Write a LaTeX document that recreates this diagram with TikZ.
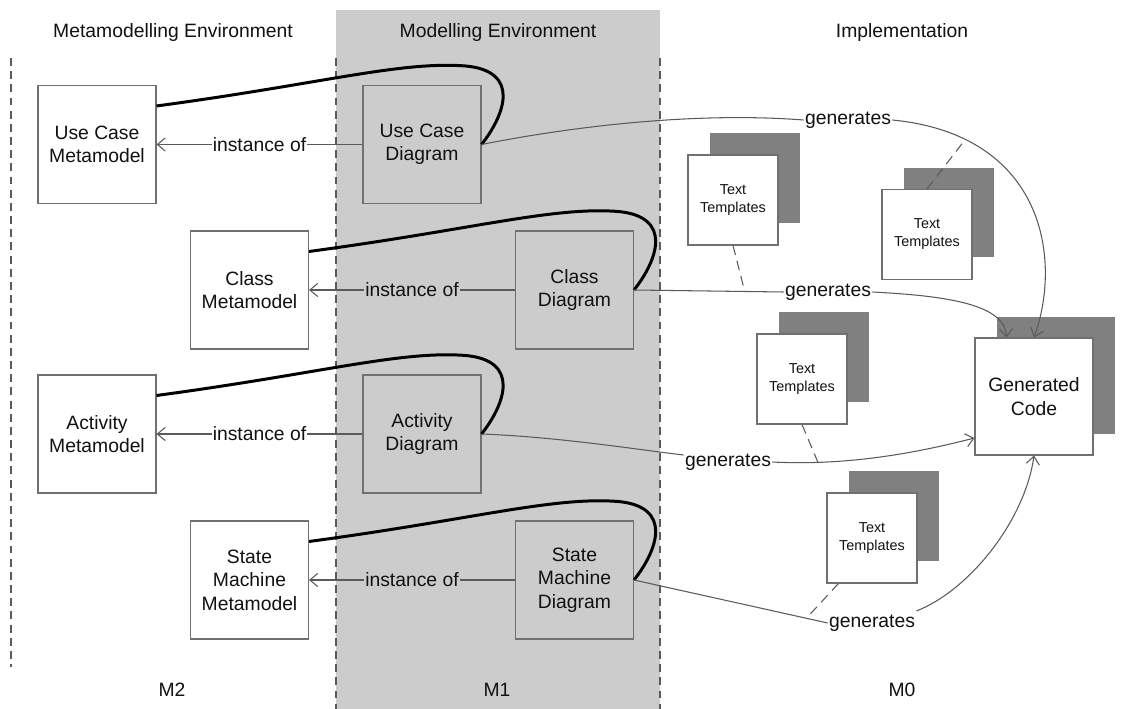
\documentclass[tikz,border=0pt]{standalone}
\usepackage{fontspec}
\setmainfont{Liberation Sans}
\usetikzlibrary{arrows.meta,calc}
\definecolor{bandgray}{HTML}{CCCCCC}
\definecolor{shadowgray}{HTML}{808080}
\definecolor{boxline}{HTML}{707070}
\definecolor{linegray}{HTML}{5A5A5A}
\definecolor{ink}{HTML}{111111}
\begin{document}
\begin{tikzpicture}[x=0.02cm,y=-0.02cm,
  txt/.style={font=\fontsize{11}{13.3}\selectfont, text=ink},
  mbox/.style={draw=boxline, line width=0.6pt, minimum width=2.36cm, minimum height=2.36cm, inner sep=0pt, align=center, txt},
  mmbox/.style={mbox, fill=white},
  dgbox/.style={mbox, fill=bandgray},
  front/.style={draw=boxline, line width=0.6pt, fill=white, minimum width=1.8cm, minimum height=1.8cm, inner sep=0pt, align=center, font=\fontsize{8.2}{10.2}\selectfont, text=ink},
  back/.style={fill=shadowgray, minimum width=1.8cm, minimum height=1.8cm, inner sep=0pt},
  gcfront/.style={front, minimum width=2.36cm, minimum height=2.34cm, txt},
  gcback/.style={back, minimum width=2.36cm, minimum height=2.34cm},
  conn/.style={draw=linegray, line width=0.6pt},
  arr/.style={conn, -{Straight Barb[length=4.5pt,width=7.5pt]}},
  lbl/.style={txt, inner sep=0.6pt},
  bound/.style={draw=linegray, line width=0.6pt, dash pattern=on 4.5pt off 3pt},
  tdash/.style={draw=linegray, line width=0.6pt, dash pattern=on 5.5pt off 3.5pt},
  thickc/.style={draw=black, line width=1.7pt},
]
\useasboundingbox (0,0) rectangle (1136,709);
\fill[white] (0,0) rectangle (1136,709);
\fill[bandgray] (336,10) rectangle (660,709);
\draw[bound] (11,58) -- (11,667);
\draw[bound] (336,58) -- (336,709);
\draw[bound] (660,58) -- (660,709);

% headers and level labels
\node[txt] (h2) at (173,33) {Metamodelling Environment};
\node[txt] (h1) at (498,33) {Modelling Environment};
\node[txt] (h0) at (902,33) {Implementation};
\node[txt] (m2) at (172,690) {M2};
\node[txt] (m1) at (497,690) {M1};
\node[txt] (m0) at (902,690) {M0};

% metamodels and diagrams
\node[mmbox] (ucm) at (97,144.5) {Use Case\\Metamodel};
\node[dgbox] (ucd) at (422,144.5) {Use Case\\Diagram};
\node[mmbox] (cm) at (249.5,290) {Class\\Metamodel};
\node[dgbox] (cd) at (574.5,290) {Class\\Diagram};
\node[mmbox] (am) at (97,434) {Activity\\Metamodel};
\node[dgbox] (ad) at (422,434) {Activity\\Diagram};
\node[mmbox] (smm) at (249.5,580) {State\\Machine\\Metamodel};
\node[dgbox] (smd) at (574.5,580) {State\\Machine\\Diagram};

% instance of
\draw[arr] (ucd) -- node[lbl, fill=white] {instance of} (ucm);
\draw[arr] (cd) -- node[lbl, fill=bandgray] {instance of} (cm);
\draw[arr] (ad) -- node[lbl, fill=white] {instance of} (am);
\draw[arr] (smd) -- node[lbl, fill=bandgray] {instance of} (smm);

% thick loops
\draw[thickc] ($(ucm.north east)+(0,21)$) .. controls ($(ucm.north east)+(164,-1)$) and ($(ucd.north east)+(-81,-24)$) .. ($(ucd.north east)+(-16,-19)$) .. controls ($(ucd.north east)+(39,-14)$) and ($(ucd.north east)+(24,29)$) .. (ucd.east);
\draw[thickc] ($(cm.north east)+(0,21)$) .. controls ($(cm.north east)+(164,-1)$) and ($(cd.north east)+(-81,-24)$) .. ($(cd.north east)+(-16,-19)$) .. controls ($(cd.north east)+(39,-14)$) and ($(cd.north east)+(24,29)$) .. (cd.east);
\draw[thickc] ($(am.north east)+(0,21)$) .. controls ($(am.north east)+(164,-1)$) and ($(ad.north east)+(-81,-24)$) .. ($(ad.north east)+(-16,-19)$) .. controls ($(ad.north east)+(39,-14)$) and ($(ad.north east)+(24,29)$) .. (ad.east);
\draw[thickc] ($(smm.north east)+(0,21)$) .. controls ($(smm.north east)+(164,-1)$) and ($(smd.north east)+(-81,-24)$) .. ($(smd.north east)+(-16,-19)$) .. controls ($(smd.north east)+(39,-14)$) and ($(smd.north east)+(24,29)$) .. (smd.east);

% text templates
\node[back] (tt1b) at (755,178) {};
\node[front] (tt1) at (733,200) {Text\\Templates};
\node[back] (tt2b) at (949,212.5) {};
\node[front] (tt2) at (927,234.5) {Text\\Templates};
\node[back] (tt3b) at (824,357) {};
\node[front] (tt3) at (802,379) {Text\\Templates};
\node[back] (tt4b) at (894,516) {};
\node[front] (tt4) at (872,538) {Text\\Templates};

% generated code
\node[gcback] (gcb) at (1056,375.5) {};
\node[gcfront] (gc) at (1034,396.5) {Generated\\Code};

% generates labels
\node[lbl] (g1) at (848,120) {generates};
\node[lbl] (g2) at (828,292) {generates};
\node[lbl] (g3) at (728,462) {generates};
\node[lbl] (g4) at (872,623) {generates};

% generates edges
\draw[conn] (ucd.east) .. controls (580,125) and (700,112) .. (g1.west);
\draw[arr] (g1.east) .. controls (1045,135) and (1062,260) .. coordinate[pos=0.19] (d2) (gc.north);
\draw[tdash] (tt2.north) -- (d2);

\draw[conn] (cd.east) -- coordinate[pos=0.74] (d1) (g2.west);
\draw[arr] (g2.east) .. controls (950,296) and (1005,305) .. ($(gc.north west)+(32,0)$);
\draw[tdash] (tt1.south) -- (d1);

\draw[conn] (ad.east) .. controls (560,437) and (640,450) .. ($(g3.west)+(0,-7)$);
\draw[arr] (g3.east) .. controls (850,466) and (920,452) .. coordinate[pos=0.2] (d3) ($(gc.west)+(0,41.5)$);
\draw[tdash] (tt3.south) -- (d3);

\draw[conn] (smd.east) -- coordinate[pos=0.89] (d4) (g4.west);
\draw[arr] ($(g4.east)+(0,-12)$) .. controls (970,590) and (1025,520) .. (gc.south);
\draw[tdash] ($(tt4.south west)+(12,0)$) -- (d4);
\end{tikzpicture}
\end{document}
